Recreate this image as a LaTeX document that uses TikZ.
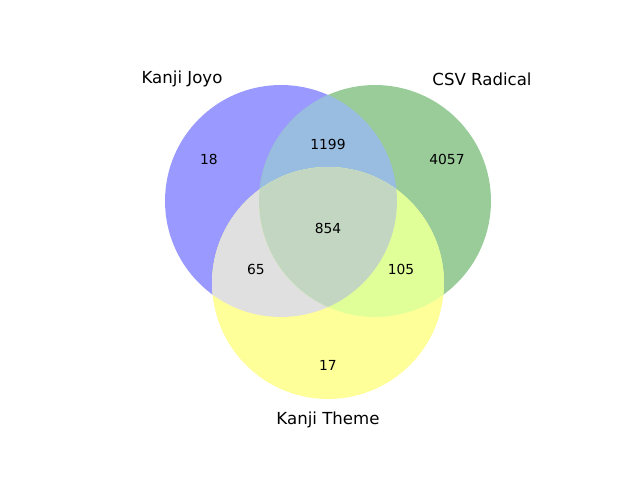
\documentclass[tikz,border=0pt]{standalone}
\usepackage{fontspec}
\setmainfont{DejaVu Sans}
\definecolor{joyoonly}{RGB}{153,153,255}
\definecolor{csvonly}{RGB}{153,204,153}
\definecolor{themeonly}{RGB}{255,255,153}
\definecolor{joyocsv}{RGB}{153,189,224}
\definecolor{joyotheme}{RGB}{224,224,224}
\definecolor{csvtheme}{RGB}{224,255,153}
\definecolor{allthree}{RGB}{194,214,194}
\tikzset{
  setlabel/.style={font=\fontsize{12}{14}\selectfont, inner sep=0pt},
  count/.style={font=\fontsize{10}{12}\selectfont, inner sep=0pt}
}
\begin{document}
\begin{tikzpicture}[x=0.0254cm, y=-0.0254cm]
    \useasboundingbox (0,0) rectangle (640,480);
    \def\rad{2.9464cm}
    % --- Circulos de los conjuntos ---
    \def\joyo{(281,201) circle[radius=\rad]}
    \def\csv{(375,201) circle[radius=\rad]}
    \def\theme{(328,283) circle[radius=\rad]}
    \fill[joyoonly] \joyo;
    \fill[csvonly] \csv;
    \fill[themeonly] \theme;

    % --- Intersecciones de dos conjuntos ---
    \begin{scope}
        \clip \joyo;
        \fill[joyocsv] \csv;
    \end{scope}
    \begin{scope}
        \clip \joyo;
        \fill[joyotheme] \theme;
    \end{scope}
    \begin{scope}
        \clip \csv;
        \fill[csvtheme] \theme;
    \end{scope}

    % --- Interseccion central ---
    \begin{scope}
        \clip \joyo;
        \clip \csv;
        \fill[allthree] \theme;
    \end{scope}

    % --- Nombres de los conjuntos ---
    \node (lbljoyo) [setlabel] at (182,79) {Kanji Joyo};
    \node (lblcsv) [setlabel] at (482,79) {CSV Radical};
    \node (lbltheme) [setlabel] at (328,420) {Kanji Theme};

    % --- Cantidades por region ---
    \node (n100) [count] at (209,159) {18};
    \node (n110) [count] at (328,144) {1199};
    \node (n010) [count] at (447,159) {4057};
    \node (n111) [count] at (328,228) {854};
    \node (n101) [count] at (256,269) {65};
    \node (n011) [count] at (401,269) {105};
    \node (n001) [count] at (328,365) {17};
\end{tikzpicture}
\end{document}
